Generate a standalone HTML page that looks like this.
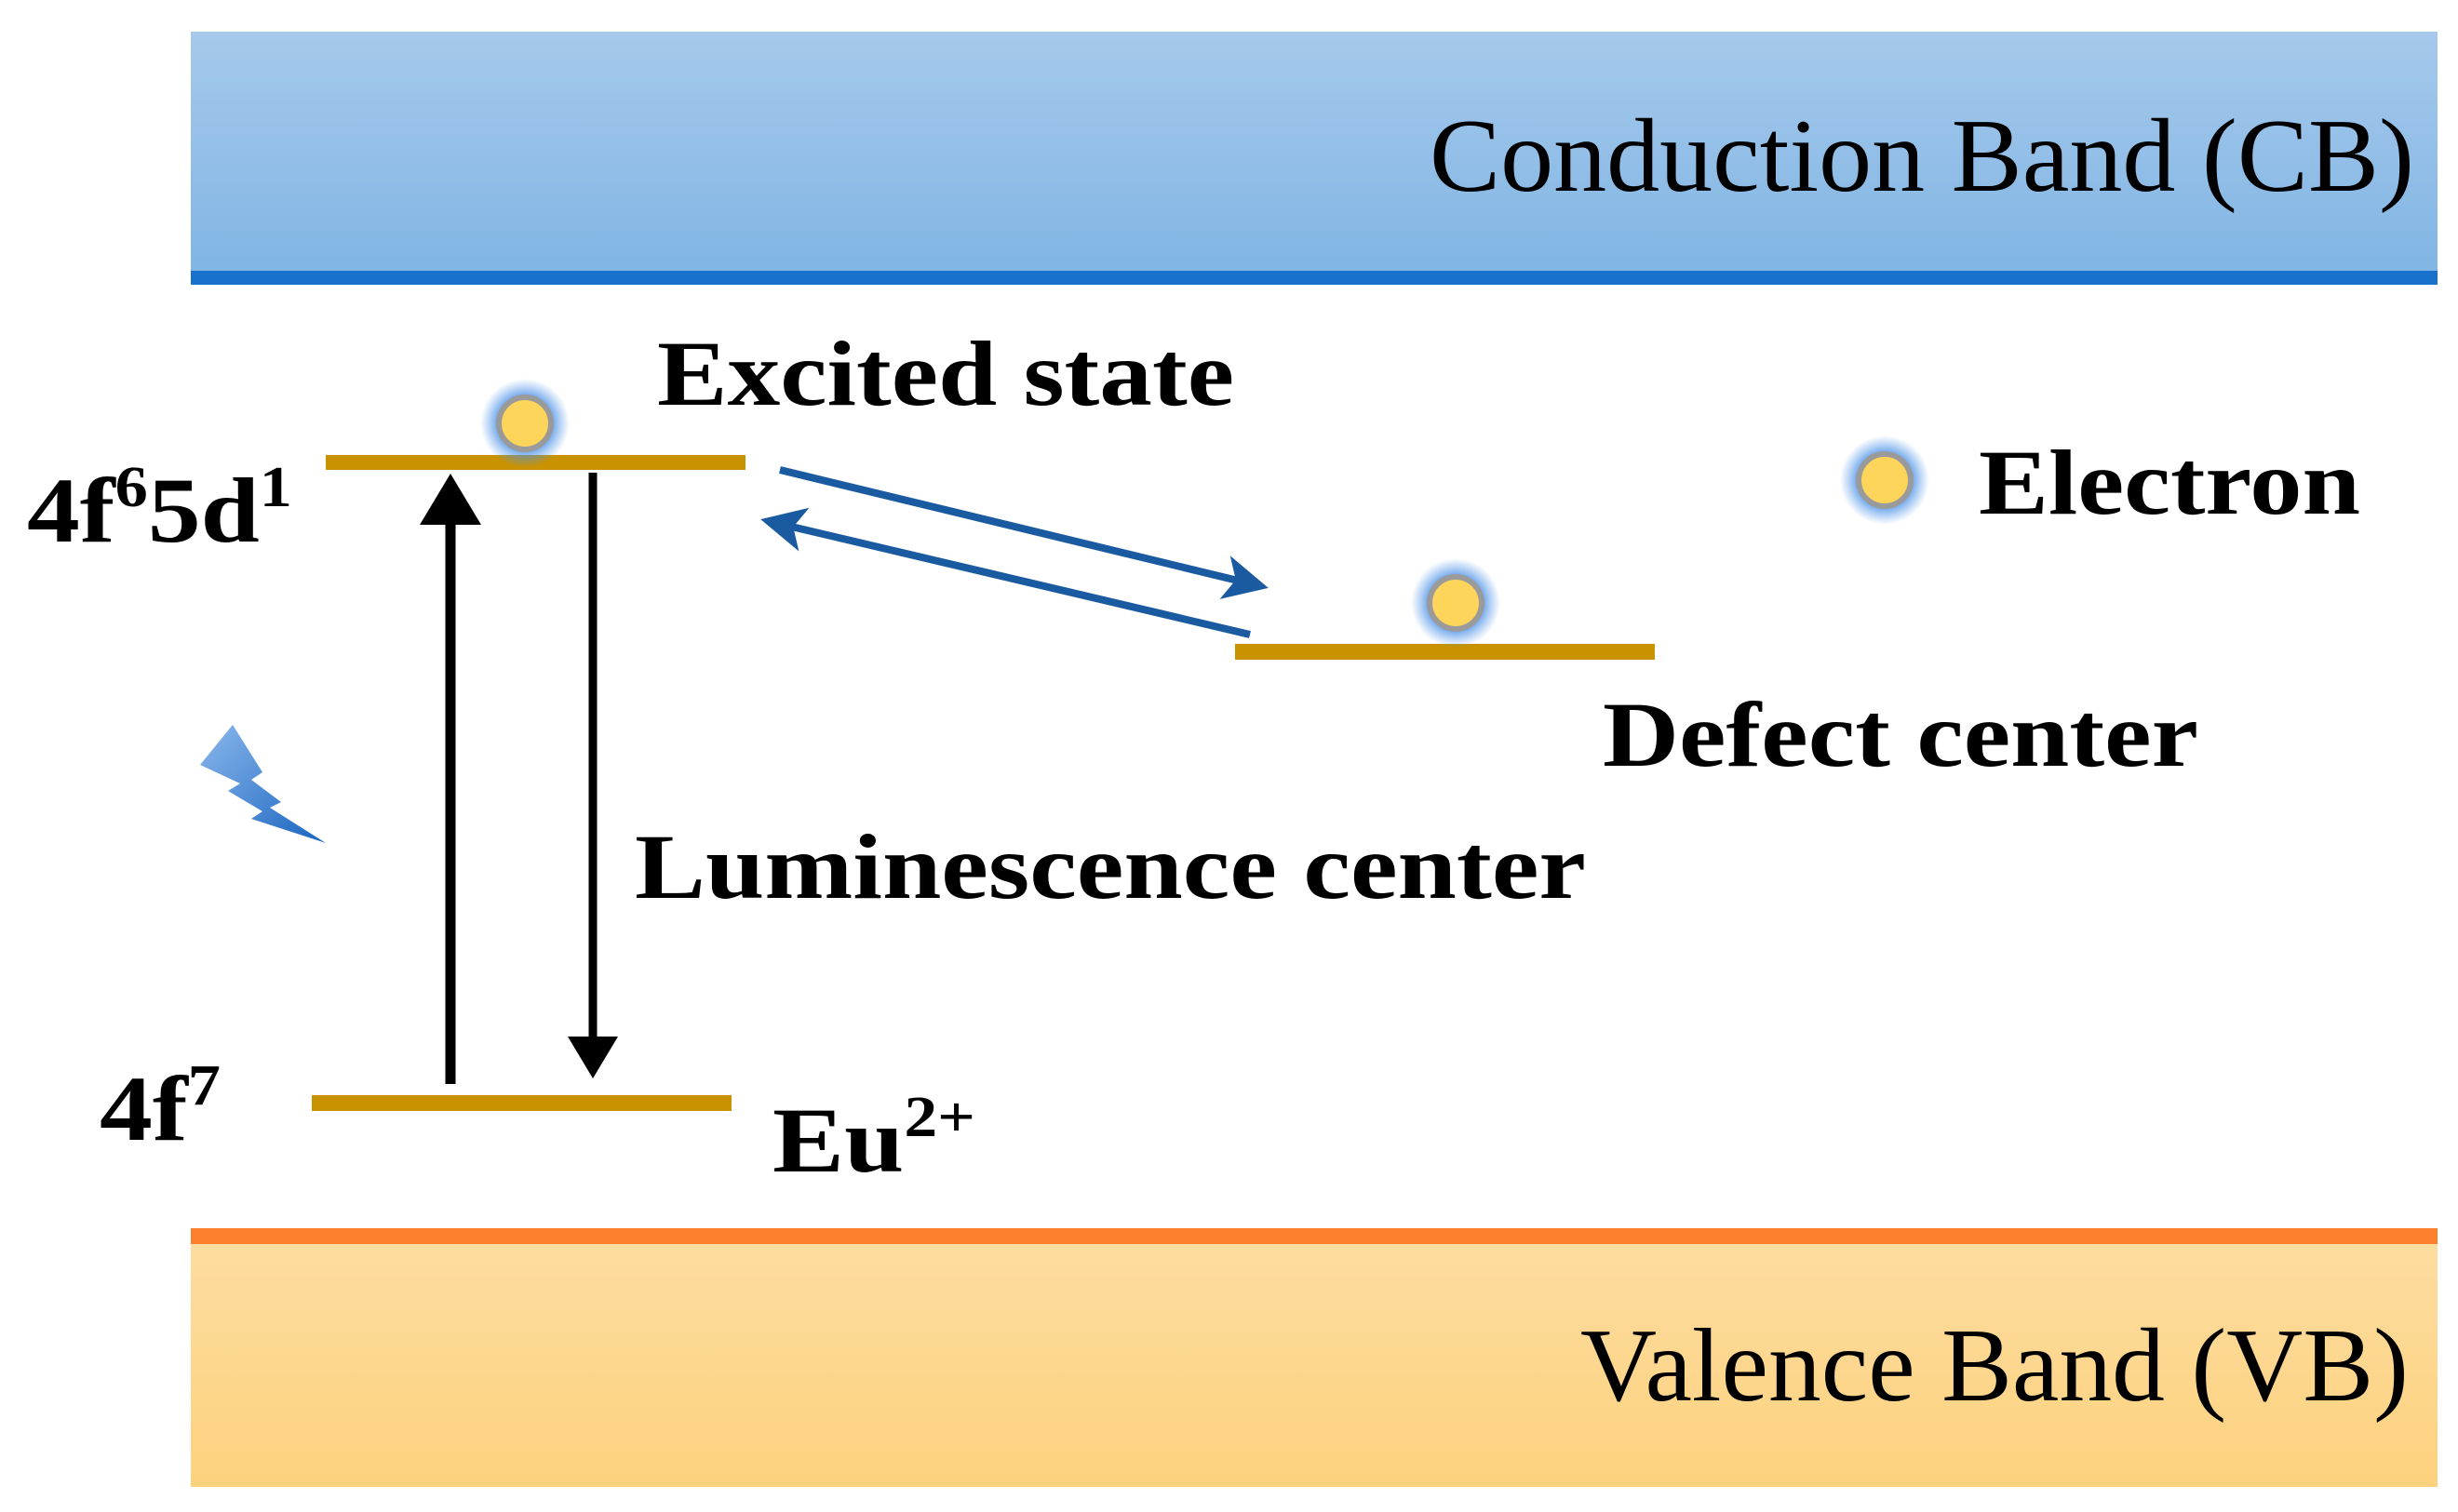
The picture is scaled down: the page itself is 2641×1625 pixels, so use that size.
<!DOCTYPE html>
<html><head><meta charset="utf-8"><style>html,body{margin:0;padding:0;background:#fff}svg{display:block}</style></head>
<body>
<svg width="2641" height="1625" viewBox="0 0 2641 1625" xmlns="http://www.w3.org/2000/svg">
<defs>
<linearGradient id="cb" x1="0" y1="0" x2="0" y2="1"><stop offset="0" stop-color="#a6c9ec"/><stop offset="1" stop-color="#80b5e3"/></linearGradient>
<linearGradient id="vb" x1="0" y1="0" x2="0" y2="1"><stop offset="0" stop-color="#fddca0"/><stop offset="1" stop-color="#fdd27e"/></linearGradient>
<radialGradient id="glow"><stop offset="0.5" stop-color="#3d88e6" stop-opacity="1"/><stop offset="1" stop-color="#5a9be8" stop-opacity="0"/></radialGradient>
<marker id="ab" markerWidth="6" markerHeight="6" refX="5" refY="3" orient="auto" markerUnits="strokeWidth"><path d="M0,0 L6,3 L0,6 L1.5,3 Z" fill="#1a5aa0"/></marker>
<marker id="ak" markerWidth="5" markerHeight="6" refX="4" refY="3" orient="auto" markerUnits="strokeWidth"><path d="M0,0 L5,3 L0,6 Z" fill="#000"/></marker>
<linearGradient id="lt" x1="0" y1="0" x2="1" y2="1"><stop offset="0" stop-color="#8ab8ec"/><stop offset="1" stop-color="#1a64c0"/></linearGradient>
</defs>
<rect x="205" y="34" width="2414" height="262" fill="url(#cb)"/>
<rect x="205" y="291" width="2414" height="15" fill="#1872cc"/>
<rect x="205" y="1337" width="2414" height="261" fill="url(#vb)"/>
<rect x="205" y="1320" width="2414" height="17" fill="#fb7f2c"/>
<g font-family="Liberation Serif, serif">
<text x="1536" y="205" font-size="112" textLength="1058" lengthAdjust="spacingAndGlyphs" fill="#000">Conduction Band (CB)</text>
<text x="1698" y="1505" font-size="112" textLength="890" lengthAdjust="spacingAndGlyphs" fill="#000">Valence Band (VB)</text>
<g font-weight="bold">
<text x="706" y="435" font-size="100" textLength="620" lengthAdjust="spacingAndGlyphs">Excited state</text>
<text x="29" y="582" font-size="100" textLength="285" lengthAdjust="spacingAndGlyphs">4f<tspan font-size="62" dy="-38">6</tspan><tspan dy="38">5d</tspan><tspan font-size="62" dy="-38">1</tspan></text>
<text x="2126" y="552" font-size="100" textLength="410" lengthAdjust="spacingAndGlyphs">Electron</text>
<text x="1722" y="823" font-size="100" textLength="640" lengthAdjust="spacingAndGlyphs">Defect center</text>
<text x="682" y="965" font-size="100" textLength="1022" lengthAdjust="spacingAndGlyphs">Luminescence center</text>
<text x="107" y="1225" font-size="100" textLength="130" lengthAdjust="spacingAndGlyphs">4f<tspan font-size="62" dy="-38">7</tspan></text>
<text x="830" y="1259" font-size="100" textLength="218" lengthAdjust="spacingAndGlyphs">Eu<tspan font-size="62" dy="-38">2+</tspan></text>
</g></g>
<rect x="350" y="489" width="451" height="16" fill="#c99200"/>
<rect x="335" y="1177" width="451" height="17" fill="#c99200"/>
<rect x="1327" y="692" width="451" height="17" fill="#c99200"/>
<line x1="484" y1="1165" x2="484" y2="520" stroke="#000" stroke-width="11" marker-end="url(#ak)"/>
<line x1="637" y1="508" x2="637" y2="1150" stroke="#000" stroke-width="9" marker-end="url(#ak)"/>
<line x1="838" y1="505" x2="1355" y2="630" stroke="#1a5aa0" stroke-width="8" marker-end="url(#ab)"/>
<line x1="1343" y1="682" x2="825" y2="560" stroke="#1a5aa0" stroke-width="8" marker-end="url(#ab)"/>
<g>
<circle cx="564" cy="455" r="48" fill="url(#glow)"/><circle cx="564" cy="455" r="28" fill="#fdd55a" stroke="#9a9a9a" stroke-width="6"/>
<circle cx="1564" cy="648" r="48" fill="url(#glow)"/><circle cx="1564" cy="648" r="28" fill="#fdd55a" stroke="#9a9a9a" stroke-width="6"/>
<circle cx="2025" cy="516" r="48" fill="url(#glow)"/><circle cx="2025" cy="516" r="28" fill="#fdd55a" stroke="#9a9a9a" stroke-width="6"/>
</g>
<path d="M215,822 L250,779 L282,830 L270,838 L302,862 L290,868 L350,906 L270,880 L282,872 L245,850 L258,842 Z" fill="url(#lt)"/>
</svg>
</body></html>
